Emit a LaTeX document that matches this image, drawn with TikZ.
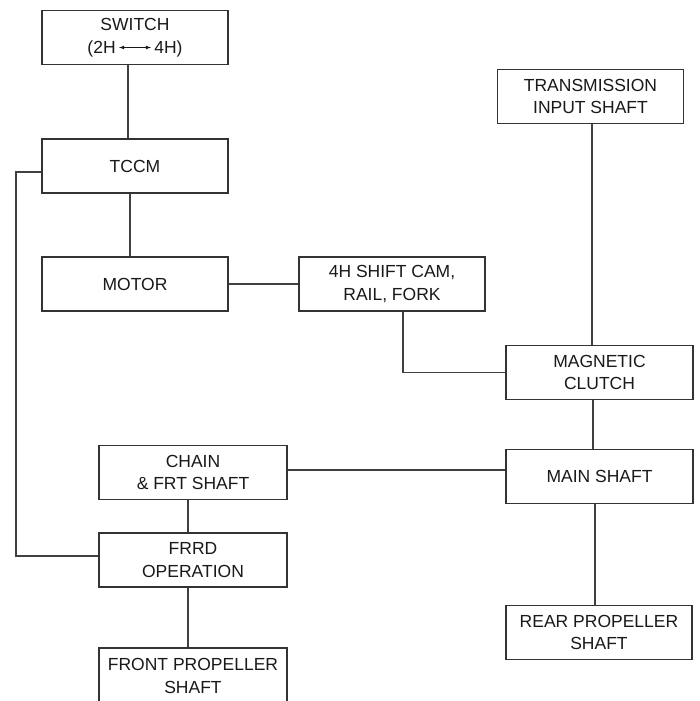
\documentclass[tikz,border=0pt]{standalone}
\usepackage{fontspec}
\setmainfont{Liberation Sans}
\begin{document}
\begin{tikzpicture}[x=1pt,y=-1pt,
    blk/.style={draw=black!80,line width=1.6pt,minimum width=186pt,minimum height=54pt,inner sep=0pt,align=center,text=black!90,font=\fontsize{17.5}{22.5}\selectfont},
    wire/.style={draw=black!75,line width=1.6pt}]
        \useasboundingbox (0,0) rectangle (699,701);
        \fill[white] (0,0) rectangle (699,701);
        \node[blk] (sw) at (135,37.5) {SWITCH\\(2H\,\tikz[baseline=-0.6ex]\draw[<->,>=latex,line width=0.8pt] (0,0) -- (32pt,0);\,4H)};
        \node[blk] (tccm) at (135,166) {TCCM};
        \node[blk] (motor) at (135,284) {MOTOR};
        \node[blk] (cam) at (392,284) {4H SHIFT CAM,\\RAIL, FORK};
        \node[blk] (tis) at (590.5,96.5) {TRANSMISSION\\INPUT SHAFT};
        \node[blk,minimum width=187pt] (mag) at (599.5,372.5) {MAGNETIC\\CLUTCH};
        \node[blk,minimum width=187pt] (main) at (599.5,476.5) {MAIN SHAFT};
        \node[blk,minimum width=188pt] (chain) at (193,472.5) {CHAIN\\\& FRT SHAFT};
        \node[blk,minimum width=188pt] (frrd) at (193,560) {FRRD\\OPERATION};
        \node[blk,minimum width=188pt,minimum height=56pt] (front) at (193,676) {FRONT PROPELLER\\SHAFT};
        \node[blk] (rear) at (599,632.5) {REAR PROPELLER\\SHAFT};
        \coordinate (bus) at (16,0);
        \draw[wire] ([xshift=-7pt]sw.south) -- ([xshift=-7pt]tccm.north);
        \draw[wire] ([xshift=-5pt]tccm.south) -- ([xshift=-5pt]motor.north);
        \draw[wire] (motor.east) -- (cam.west);
        \draw[wire] ([xshift=11pt]cam.south) |- (mag.west);
        \draw[wire] ([xshift=1.5pt]tis.south) -- ([xshift=1.5pt]tis.south |- mag.north);
        \draw[wire] ([xshift=-6.5pt]mag.south) -- ([xshift=-6.5pt]main.north);
        \draw[wire] ([yshift=6.5pt]main.west) -- ([yshift=6.5pt]main.west -| chain.east);
        \draw[wire] ([xshift=-4.5pt]main.south) -- ([xshift=-4.5pt]main.south |- rear.north);
        \draw[wire] ([xshift=-5pt]chain.south) -- ([xshift=-5pt]frrd.north);
        \draw[wire] ([xshift=-5pt]frrd.south) -- ([xshift=-5pt]front.north);
        \draw[wire] ([yshift=-6pt]tccm.west) -- ([yshift=-6pt]tccm.west -| bus) |- ([yshift=4pt]frrd.west);
    \end{tikzpicture}
\end{document}
